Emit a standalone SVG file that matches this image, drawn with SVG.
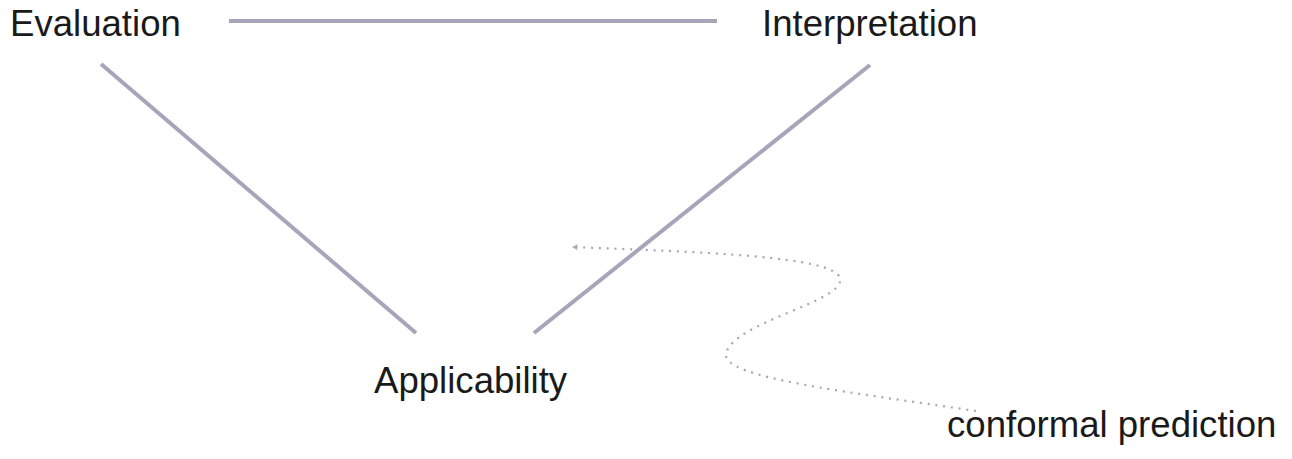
<svg xmlns="http://www.w3.org/2000/svg" width="1292" height="459" viewBox="0 0 1292 459">
  <style>
    .label { font-family: "Liberation Sans", Arial, Helvetica, sans-serif; font-size: 36.6px; fill: #1a1a1a; }
    .edge { stroke: #a8a4b9; stroke-width: 4; fill: none; }
    .dotted { stroke: #a8a4b9; stroke-width: 2.2; fill: none; stroke-dasharray: 2 5.8; }
  </style>
  <defs>
    <marker id="arrow" viewBox="0 0 10 10" refX="9" refY="5" markerWidth="8" markerHeight="8" markerUnits="userSpaceOnUse" orient="auto">
      <path d="M1,1 L9,5 L1,9 L4,5 Z" fill="#a8a4b9"/>
    </marker>
  </defs>
  <rect width="1292" height="459" fill="#ffffff"/>

  <g id="connectors">
    <line class="edge" x1="229" y1="21" x2="717" y2="21"/>
    <line class="edge" x1="101" y1="64" x2="416" y2="333"/>
    <line class="edge" x1="870" y1="65" x2="534" y2="333"/>
    <path class="dotted" marker-end="url(#arrow)" d="M976,411 C850,392 722,378 726,354 C732,322 846,302 840,278 C834,256 700,252 572,247"/>
  </g>

  <g id="evaluation"><text class="label" x="10" y="36">Evaluation</text></g>
  <g id="interpretation"><text class="label" x="762" y="36">Interpretation</text></g>
  <g id="applicability"><text class="label" x="374" y="393">Applicability</text></g>
  <g id="conformal-prediction"><text class="label" x="947" y="437">conformal prediction</text></g>
</svg>
